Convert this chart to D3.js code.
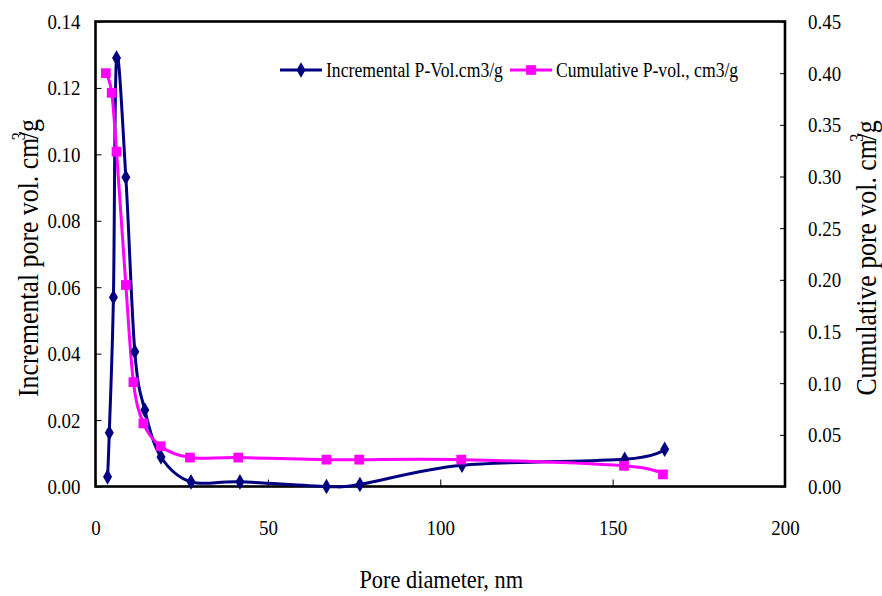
<!DOCTYPE html>
<html>
<head>
<meta charset="utf-8">
<script src="https://cdn.jsdelivr.net/npm/d3@7"></script>
<style>
  html, body { margin: 0; padding: 0; background: #fff; }
  svg text { font-family: "Liberation Serif", "Times New Roman", serif; fill: #000; }
</style>
</head>
<body>
<svg id="chart" width="882" height="596"></svg>
<script>
// Pore diameter (nm) for each measured point
const incDiameter = [3.5, 4.0, 5.2, 6.1, 8.8, 11.4, 14.3, 19.0, 27.7, 41.9, 67.0, 76.7, 106.3, 153.5, 165.1];
// Incremental pore volume, cm3/g (left axis)
const incVolume   = [0.0029, 0.0162, 0.0570, 0.1290, 0.0931, 0.0406, 0.0230, 0.0089, 0.0014, 0.0014, 0.0000, 0.0006, 0.0064, 0.0082, 0.0112];

const cumDiameter = [3.0, 4.7, 6.1, 8.8, 11.0, 13.9, 18.9, 27.4, 41.4, 67.0, 76.5, 106.1, 153.3, 164.6];
// Cumulative pore volume, cm3/g (right axis)
const cumVolume   = [0.400, 0.381, 0.324, 0.195, 0.101, 0.061, 0.039, 0.028, 0.028, 0.026, 0.026, 0.026, 0.020, 0.0117];

const xTicks      = [0, 50, 100, 150, 200];
const leftTicks   = [0, 0.02, 0.04, 0.06, 0.08, 0.10, 0.12, 0.14];
const rightTicks  = [0, 0.05, 0.10, 0.15, 0.20, 0.25, 0.30, 0.35, 0.40, 0.45];

const seriesNames = ["Incremental P-Vol.cm3/g", "Cumulative P-vol., cm3/g"];
const colors = { inc: "#000080", cum: "#ff00ff" };

const svg = d3.select("#chart");
const plot = { left: 95.5, right: 785, top: 21.5, bottom: 486.5 };

// Narrow, tall serif lettering: squeeze each text node horizontally
const SQUEEZE = 0.86;
function squeeze(sel) {
  sel.each(function () {
    const w = this.getComputedTextLength();
    d3.select(this).attr("textLength", w * SQUEEZE).attr("lengthAdjust", "spacingAndGlyphs");
  });
}

const x  = d3.scaleLinear().domain([0, 200]).range([plot.left, plot.right]);
const yL = d3.scaleLinear().domain([0, 0.14]).range([plot.bottom, plot.top]);
const yR = d3.scaleLinear().domain([0, 0.45]).range([plot.bottom, plot.top]);

const fmt2 = d3.format(".2f");

// Axes: ticks point into the plot area
const gx = svg.append("g").attr("transform", `translate(0,${plot.bottom})`)
  .call(d3.axisBottom(x).tickValues(xTicks).tickSizeInner(-7).tickSizeOuter(0).tickPadding(33).tickFormat(d3.format("d")));
const gl = svg.append("g").attr("transform", `translate(${plot.left},0)`)
  .call(d3.axisLeft(yL).tickValues(leftTicks).tickSizeInner(-6).tickSizeOuter(0).tickPadding(15).tickFormat(fmt2));
const gr = svg.append("g").attr("transform", `translate(${plot.right},0)`)
  .call(d3.axisRight(yR).tickValues(rightTicks).tickSizeInner(-5).tickSizeOuter(0).tickPadding(23).tickFormat(fmt2));

[gx, gl, gr].forEach(g => {
  g.select(".domain").remove();
  g.selectAll(".tick line").attr("stroke", "#000").attr("stroke-width", 1);
  g.selectAll(".tick text").attr("font-size", 22).attr("font-family", "Liberation Serif");
  squeeze(g.selectAll(".tick text"));
});
gx.selectAll(".tick text").attr("dy", "0.71em");

// Plot frame
svg.append("rect")
  .attr("x", plot.left).attr("y", plot.top)
  .attr("width", plot.right - plot.left).attr("height", plot.bottom - plot.top)
  .attr("fill", "none").attr("stroke", "#000").attr("stroke-width", 2.6);

const diamond = d3.symbol().type(d3.symbolDiamond).size(70);
const square  = d3.symbol().type(d3.symbolSquare).size(95);

// Incremental series (left axis)
const incData = incDiameter.map((d, i) => [d, incVolume[i]]);
svg.append("path")
  .datum(incData)
  .attr("fill", "none").attr("stroke", colors.inc).attr("stroke-width", 3)
  .attr("d", d3.line().x(d => x(d[0])).y(d => yL(d[1])).curve(d3.curveCardinal.tension(0)));

// Cumulative series (right axis)
const cumData = cumDiameter.map((d, i) => [d, cumVolume[i]]);
svg.append("path")
  .datum(cumData)
  .attr("fill", "none").attr("stroke", colors.cum).attr("stroke-width", 3)
  .attr("d", d3.line().x(d => x(d[0])).y(d => yR(d[1])).curve(d3.curveCardinal.tension(0)));

svg.append("g").selectAll("path").data(incData).join("path")
  .attr("d", diamond).attr("fill", colors.inc)
  .attr("transform", d => `translate(${x(d[0])},${yL(d[1])})`);

svg.append("g").selectAll("path").data(cumData).join("path")
  .attr("d", square).attr("fill", colors.cum)
  .attr("transform", d => `translate(${x(d[0])},${yR(d[1])})`);

// Legend
const legend = svg.append("g").attr("transform", "translate(280,70)");
const legItems = [
  { name: seriesNames[0], color: colors.inc, sym: diamond, x0: 0 },
  { name: seriesNames[1], color: colors.cum, sym: square, x0: 230 }
];
legItems.forEach(it => {
  const g = legend.append("g").attr("transform", `translate(${it.x0},0)`);
  g.append("line").attr("x1", 0).attr("x2", 42).attr("y1", 0).attr("y2", 0)
    .attr("stroke", it.color).attr("stroke-width", 3);
  g.append("path").attr("d", it.sym).attr("fill", it.color).attr("transform", "translate(21,0)");
  const t = g.append("text").attr("x", 46).attr("y", 6.5).attr("font-size", 20.5).text(it.name);
  squeeze(t);
});

// Axis titles
const xt = svg.append("text").attr("x", (plot.left + plot.right) / 2 + 1).attr("y", 588)
  .attr("text-anchor", "middle").attr("font-size", 26).text("Pore diameter, nm");
squeeze(xt);

function volTitle(label, cx, cy) {
  const t = svg.append("text")
    .attr("transform", `translate(${cx},${cy}) rotate(-90) scale(${SQUEEZE},1)`)
    .attr("text-anchor", "middle").attr("font-size", 30);
  t.append("tspan").text(label + " cm");
  t.append("tspan").attr("font-size", 19).attr("dy", -13).attr("dx", -3).text("3");
  t.append("tspan").attr("dy", 13).attr("dx", -8).text("/g");
}
volTitle("Incremental pore vol.", 38, 258);
volTitle("Cumulative pore vol.", 876, 258);
</script>
</body>
</html>
